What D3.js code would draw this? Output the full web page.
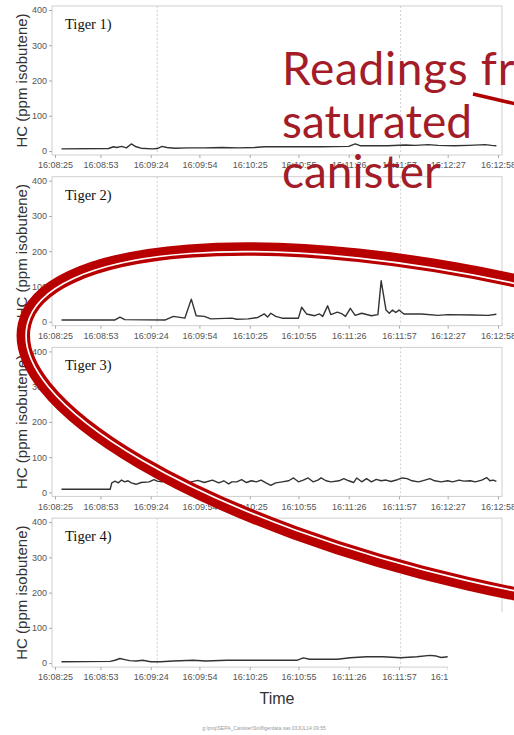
<!DOCTYPE html>
<html>
<head>
<meta charset="utf-8">
<script src="https://cdn.jsdelivr.net/npm/d3@7"></script>
<style>
  html, body { margin: 0; padding: 0; background: #fff; }
  svg { display: block; }
</style>
</head>
<body>
<svg id="chart" width="514" height="735"></svg>
<script>
// ---- data -------------------------------------------------------------
const startTime = "16:08:25";
const endTime = "16:12:58";
const tickLabels = ["16:08:25", "16:08:53", "16:09:24", "16:09:54", "16:10:25",
                    "16:10:55", "16:11:26", "16:11:57", "16:12:27", "16:12:58"];
const refTimes = ["16:09:28", "16:11:58"];
const yTicks = [0, 100, 200, 300, 400];
const panelTitles = ["Tiger 1)", "Tiger 2)", "Tiger 3)", "Tiger 4)"];

// seconds after start time / HC reading (ppm isobutene)
const tiger1Sec = [4, 33, 36, 38, 41, 44, 47, 50, 53, 60, 63, 66, 69, 74, 82, 92, 103, 113, 123, 129,
                   144, 164, 181, 185, 188, 195, 205, 216, 222, 230, 236, 246, 255, 265, 269, 272];
const tiger1Hc  = [6, 7, 12, 10, 13, 9, 20, 12, 8, 6, 7, 13, 10, 8, 9, 9, 10, 9, 10, 12,
                   12, 12, 13, 20, 15, 15, 15, 17, 16, 18, 16, 15, 16, 18, 16, 15];

const tiger2Sec = [4, 37, 40, 43, 68, 73, 80, 84, 87, 92, 96, 109, 112, 119, 125, 129, 131, 133, 136, 140,
                   150, 152, 155, 160, 163, 165, 168, 170, 174, 177, 179, 182, 185, 189, 195, 199, 201, 204,
                   206, 208, 210, 212, 215, 226, 236, 242, 257, 267, 272];
const tiger2Hc  = [5, 5, 13, 6, 5, 15, 10, 64, 17, 15, 8, 10, 7, 8, 12, 22, 13, 24, 15, 10,
                   10, 41, 22, 17, 22, 15, 45, 20, 27, 22, 15, 38, 18, 24, 17, 20, 116, 33,
                   24, 33, 26, 33, 22, 22, 18, 20, 19, 18, 21];

const tiger3Sec = [4, 34, 35, 37, 39, 41, 43, 45, 47, 50, 53, 58, 61, 63, 66, 68, 71, 74, 77, 80,
                   84, 88, 92, 97, 101, 104, 107, 109, 112, 115, 118, 121, 124, 127, 130, 133, 136, 140,
                   144, 147, 150, 153, 156, 159, 162, 164, 167, 170, 175, 178, 181, 184, 186, 189, 192,
                   195, 198, 201, 204, 207, 211, 214, 217, 220, 224, 228, 231, 234, 238, 242, 245, 249,
                   252, 256, 259, 263, 266, 268, 270, 272];
const tiger3Hc  = [9, 9, 27, 32, 27, 35, 30, 33, 27, 23, 28, 30, 36, 32, 30, 36, 33, 30, 27, 25,
                   30, 34, 28, 35, 27, 33, 24, 30, 30, 36, 28, 33, 30, 35, 27, 20, 27, 30,
                   33, 41, 30, 35, 41, 30, 35, 41, 33, 30, 33, 39, 33, 28, 41, 30, 39,
                   30, 37, 33, 35, 31, 36, 41, 39, 33, 30, 35, 39, 33, 30, 33, 30, 35,
                   32, 33, 30, 35, 42, 33, 35, 31];

const tiger4Sec = [4, 34, 37, 40, 43, 46, 50, 54, 59, 65, 73, 85, 93, 106, 114, 126, 149, 153, 157, 161,
                   174, 182, 192, 202, 213, 223, 231, 235, 238, 242];
const tiger4Hc  = [4, 5, 8, 13, 10, 7, 6, 8, 4, 4, 6, 8, 6, 8, 8, 8, 8, 15, 11, 11,
                   11, 15, 18, 18, 15, 18, 22, 20, 16, 18];

const seriesSec = [tiger1Sec, tiger2Sec, tiger3Sec, tiger4Sec];
const seriesHc  = [tiger1Hc, tiger2Hc, tiger3Hc, tiger4Hc];

// ---- layout -----------------------------------------------------------
const W = 514, H = 735;
const frameLeft = 52, frameRight = 502;
const panelStep = 170.7;
const firstZeroY = 151;
const plotHeight = 141;   // 0 -> 400 ppm

const toSec = s => { const [h, m, x] = s.split(":").map(Number); return h * 3600 + m * 60 + x; };
const t0 = toSec(startTime);

const svg = d3.select("#chart");
svg.append("rect").attr("width", W).attr("height", H).attr("fill", "#fff");

const x = d3.scaleLinear().domain([t0, toSec(endTime)]).range([55, 498]);

const axisFont = "'Liberation Sans', Arial, sans-serif";

panelTitles.forEach((title, i) => {
  const zeroY = firstZeroY + i * panelStep;
  const y = d3.scaleLinear().domain([0, 400]).range([zeroY, zeroY - plotHeight]);
  const frameTop = zeroY - plotHeight - 4;
  const frameBottom = zeroY + 4;
  const g = svg.append("g").attr("class", "panel");

  // plot frame
  g.append("rect")
    .attr("x", frameLeft).attr("y", frameTop)
    .attr("width", frameRight - frameLeft).attr("height", frameBottom - frameTop)
    .attr("fill", "none").attr("stroke", "#cfcfcf").attr("stroke-width", 1);

  // dotted reference lines
  g.selectAll("line.ref").data(refTimes).enter().append("line")
    .attr("class", "ref")
    .attr("x1", d => x(toSec(d))).attr("x2", d => x(toSec(d)))
    .attr("y1", frameTop).attr("y2", frameBottom)
    .attr("stroke", "#c4c4c4").attr("stroke-width", 0.8)
    .attr("stroke-dasharray", "2,2");

  // y axis
  const yAxis = g.append("g")
    .attr("transform", `translate(${frameLeft},0)`)
    .call(d3.axisLeft(y).tickValues(yTicks).tickSize(3).tickPadding(2));
  yAxis.select(".domain").remove();
  yAxis.selectAll(".tick line").attr("stroke", "#aaa");
  yAxis.selectAll(".tick text").attr("fill", "#555")
    .style("font-family", axisFont).style("font-size", "9px");

  // x axis
  const xAxis = g.append("g")
    .attr("transform", `translate(0,${frameBottom})`)
    .call(d3.axisBottom(x)
      .tickValues(tickLabels.map(toSec))
      .tickFormat((d, k) => tickLabels[k])
      .tickSize(3).tickPadding(4));
  xAxis.select(".domain").remove();
  xAxis.selectAll(".tick line").attr("stroke", "#aaa");
  xAxis.selectAll(".tick text").attr("fill", "#555")
    .style("font-family", axisFont).style("font-size", "9px");

  // y axis title
  g.append("text")
    .attr("transform", `translate(27,${zeroY - plotHeight / 2}) rotate(-90)`)
    .attr("text-anchor", "middle")
    .attr("fill", "#333")
    .style("font-family", axisFont).style("font-size", "15px")
    .text("HC (ppm isobutene)");

  // panel title
  g.append("text")
    .attr("x", 65).attr("y", frameTop + 23)
    .attr("fill", "#111")
    .style("font-family", "'Liberation Serif', 'Times New Roman', serif")
    .style("font-size", "14.5px")
    .text(title);

  // HC trace
  const pts = seriesSec[i].map((s, k) => [t0 + s, seriesHc[i][k]]);
  g.append("path")
    .datum(pts)
    .attr("fill", "none")
    .attr("stroke", "#333")
    .attr("stroke-width", 1.4)
    .attr("stroke-linejoin", "round")
    .attr("d", d3.line().x(d => x(d[0])).y(d => y(d[1])));
});

// time axis title and footnote
svg.append("text")
  .attr("x", 277).attr("y", 704)
  .attr("text-anchor", "middle").attr("fill", "#333")
  .style("font-family", axisFont).style("font-size", "16px")
  .text("Time");

svg.append("text")
  .attr("x", 264).attr("y", 730)
  .attr("text-anchor", "middle").attr("fill", "#999")
  .style("font-family", axisFont).style("font-size", "5px")
  .text("g:\\proj\\SEPA_Canister\\Sniffigerdata.sas 03JUL14 09:55");

// slide area covering the right end of the last panel
svg.append("rect")
  .attr("x", 448).attr("y", 612).attr("width", W - 448).attr("height", H - 612)
  .attr("fill", "#fff");

// ---- annotation ------------------------------------------------------
const ringRed = "#b80000";
const ring = svg.append("g")
  .attr("transform", "translate(502,434.5) rotate(13)");
ring.append("ellipse")
  .attr("rx", 490).attr("ry", 153)
  .attr("fill", "none").attr("stroke", ringRed).attr("stroke-width", 13.5);
ring.append("ellipse")
  .attr("rx", 487.2).attr("ry", 150.2)
  .attr("fill", "none").attr("stroke", "#fff").attr("stroke-width", 1.7);

const noteRed = "#a31c28";
const noteFont = "Lato, 'Open Sans', sans-serif";
const noteLines = ["Readings fr", "saturated", "canister"];
const noteBase = [85, 138, 188];
const note = svg.append("g");
const probe = note.append("text").style("font-family", noteFont).style("font-size", "40px").text(noteLines[1]);
const fitSize = 40 * 190 / probe.node().getComputedTextLength();
probe.remove();
note.selectAll("text").data(noteLines).enter().append("text")
  .attr("x", 282).attr("y", (d, k) => noteBase[k])
  .attr("fill", noteRed)
  .style("font-family", noteFont)
  .style("font-size", fitSize + "px")
  .style("letter-spacing", (d, k) => k === 0 ? "0.7px" : null)
  .text(d => d);

svg.append("line")
  .attr("x1", 473).attr("y1", 94).attr("x2", 516).attr("y2", 104)
  .attr("stroke", "#b00000").attr("stroke-width", 3.5);
</script>
</body>
</html>
